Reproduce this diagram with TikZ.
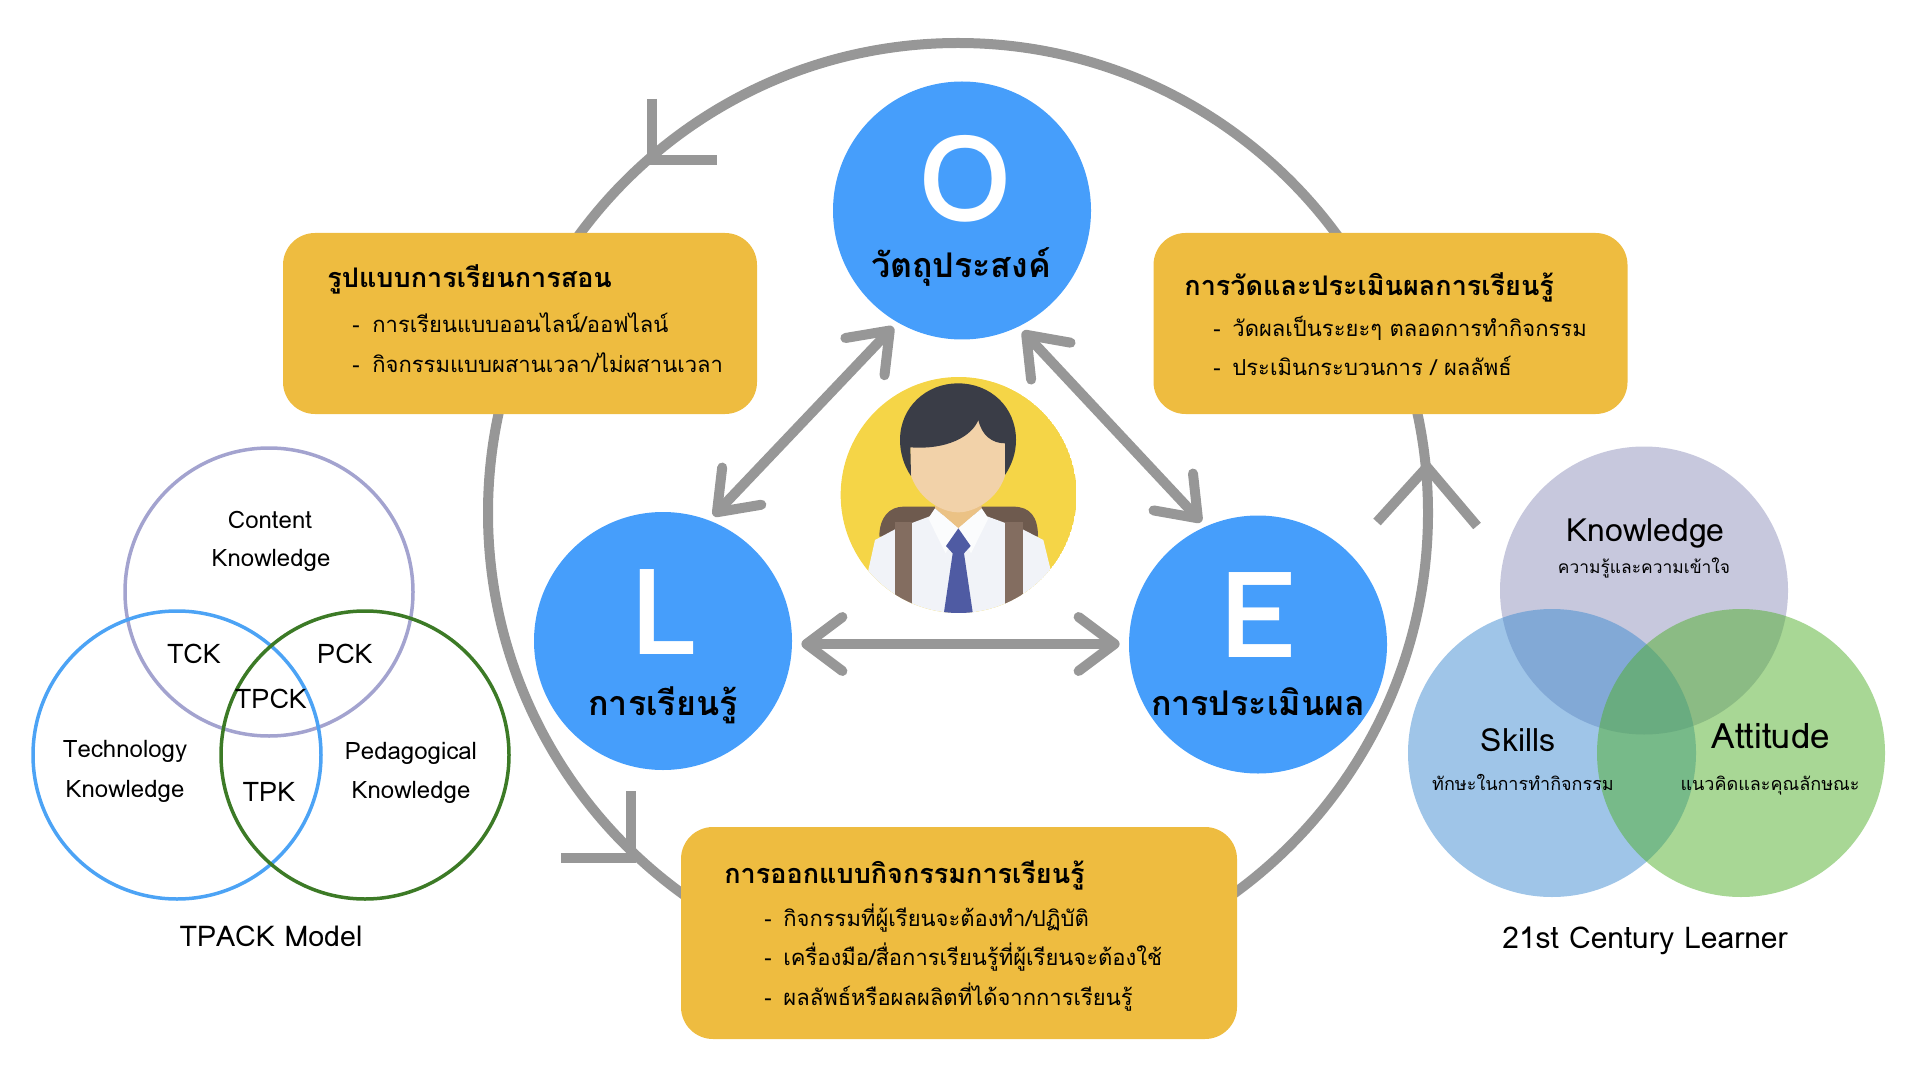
\documentclass[tikz,border=0pt]{standalone}
\usepackage{fontspec}
\setmainfont[Script=Thai]{Loma}
\usetikzlibrary{arrows.meta}
\definecolor{ringgray}{HTML}{979797}
\definecolor{loeblue}{HTML}{469EFB}
\definecolor{boxyellow}{HTML}{EEBC40}
\definecolor{iconyellow}{HTML}{F5D547}
\definecolor{packbrown}{HTML}{6E5A4E}
\definecolor{strapbrown}{HTML}{836D60}
\definecolor{shirtgray}{HTML}{F1F3F8}
\definecolor{collarwhite}{HTML}{FBFCFD}
\definecolor{neckskin}{HTML}{EBC285}
\definecolor{faceskin}{HTML}{F2D2A9}
\definecolor{tieblue}{HTML}{4F5BA3}
\definecolor{hairdark}{HTML}{3A3D47}
\definecolor{contentline}{HTML}{A3A3CF}
\definecolor{technoline}{HTML}{4CA3F5}
\definecolor{pedagoline}{HTML}{3C7A26}
\definecolor{knowfill}{HTML}{8F91BB}
\definecolor{skillfill}{HTML}{3F8BD1}
\definecolor{attitfill}{HTML}{51AF2B}
\tikzset{
  ringline/.style={draw=ringgray,line width=5pt},
  loearrow/.style={draw=ringgray,line width=5pt,{Straight Barb[length=18pt,width=27pt,line width=5pt,round]}-{Straight Barb[length=18pt,width=27pt,line width=5pt,round]}},
  loecircle/.style={circle,fill=loeblue,minimum size=129pt,inner sep=0pt},
  planbox/.style={fill=boxyellow,rounded corners=16pt,minimum width=237pt,minimum height=90.5pt,inner sep=0pt},
  venn/.style={circle,minimum size=144pt,inner sep=0pt},
  linevenn/.style={venn,line width=1.75pt},
  softvenn/.style={venn,fill opacity=0.5},
  bigletter/.style={anchor=base,inner sep=0pt,text=white,text height=40pt,text depth=0pt,font=\fontsize{60}{62}\selectfont\bfseries},
  circlabel/.style={anchor=base,inner sep=0pt,font=\fontsize{17}{20}\selectfont\bfseries},
  boxtitle/.style={anchor=base west,inner sep=0pt,font=\fontsize{13.5}{16}\selectfont\bfseries},
  boxline/.style={anchor=base west,inner sep=0pt,font=\fontsize{11}{14}\selectfont},
  vennlabel/.style={anchor=base,inner sep=0pt,font=\fontsize{12}{14}\selectfont},
  vennmark/.style={anchor=base,inner sep=0pt,font=\fontsize{13.5}{16}\selectfont},
  vennhead/.style={anchor=base,inner sep=0pt,font=\fontsize{16}{18}\selectfont},
  vennsub/.style={anchor=base,inner sep=0pt,font=\fontsize{9}{11}\selectfont}
}
\begin{document}
\begin{tikzpicture}[x=0.5pt,y=-0.5pt]
  \useasboundingbox (0,0) rectangle (1920,1080);
  \node[ringline,circle,minimum size=470pt,inner sep=0pt] (ring) at (958,513) {};
  \coordinate (topvert) at (652,160);
  \coordinate (topa) at (652,99);
  \coordinate (topb) at (717,160);
  \coordinate (botvert) at (631,858);
  \coordinate (bota) at (631,791);
  \coordinate (botb) at (561,858);
  \coordinate (rightvert) at (1427,467);
  \coordinate (righta) at (1377,522);
  \coordinate (rightb) at (1477,526);
  \draw[ringline] (topa) -- (topvert) -- (topb);
  \draw[ringline] (bota) -- (botvert) -- (botb);
  \draw[ringline] (righta) -- (rightvert) -- (rightb);

  \node[loecircle] (obj) at (962,210.5) {};
  \node[loecircle] (learn) at (663,641) {};
  \node[loecircle] (eval) at (1258,644.5) {};
  \node[bigletter] (objletter) at (965,222) {O};
  \node[bigletter] (learnletter) at (665,654) {L};
  \node[bigletter] (evalletter) at (1258,657) {E};
  \node[circlabel] (objlabel) at (961,278) {วัตถุประสงค์};
  \node[circlabel] (learnlabel) at (663,715) {การเรียนรู้};
  \node[circlabel] (evallabel) at (1258,715) {การประเมินผล};
  \draw[loearrow,shorten <=3pt,shorten >=3pt] (obj.240) -- (learn.69);
  \draw[loearrow,shorten <=3pt,shorten >=3pt] (obj.296) -- (eval.114);
  \draw[loearrow,shorten <=4.5pt,shorten >=4.5pt] (learn.east |- 0,644) -- (eval.west |- 0,644);

  \begin{scope}[shift={(800,340)},scale=1/3]
    \begin{scope}
      \clip (476,465) circle (354);
      \fill[iconyellow] (476,465) circle (354);
      \fill[packbrown] (238,590) .. controls (238,530) and (270,500) .. (310,500) -- (640,500) .. controls (690,500) and (714,530) .. (714,590) -- cycle;
      \fill[shirtgray] (205,690) -- (225,600) -- (285,568) -- (400,525) -- (550,525) -- (668,568) -- (730,600) -- (752,690) -- (752,830) -- (205,830) -- cycle;
      \fill[strapbrown] (284,545) rectangle (336,830);
      \fill[strapbrown] (616,545) rectangle (668,830);
      \fill[neckskin] (405,480) -- (545,480) -- (545,505) -- (475,565) -- (405,505) -- cycle;
      \fill[collarwhite] (405,505) -- (475,565) -- (437,640) -- (385,535) -- cycle;
      \fill[collarwhite] (545,505) -- (475,565) -- (513,640) -- (565,535) -- cycle;
      \fill[tieblue] (475,565) -- (512,618) -- (492,640) -- (520,830) -- (430,830) -- (458,640) -- (438,618) -- cycle;
    \end{scope}
    \fill[faceskin] (331,220) -- (331,400) .. controls (350,470) and (420,517) .. (475,517) .. controls (530,517) and (600,470) .. (617,400) -- (617,220) -- cycle;
    \fill[hairdark] (333,408) .. controls (310,375) and (300,335) .. (300,300) .. controls (300,200) and (380,130) .. (474,130) .. controls (570,130) and (648,200) .. (648,300) .. controls (648,340) and (635,375) .. (615,405) -- (615,310) .. controls (575,310) and (545,285) .. (535,240) .. controls (515,290) and (440,330) .. (331,322) -- cycle;
  \end{scope}

  \node[planbox] (teachbox) at (520,323.5) {};
  \node[boxtitle] (teachtitle) at (327,288) {รูปแบบการเรียนการสอน};
  \node[boxline] (teachdasha) at (352,333) {-};
  \node[boxline] (teachlinea) at (372,333) {การเรียนแบบออนไลน์/ออฟไลน์};
  \node[boxline] (teachdashb) at (352,372) {-};
  \node[boxline] (teachlineb) at (372,372) {กิจกรรมแบบผสานเวลา/ไม่ผสานเวลา};

  \node[planbox] (assessbox) at (1390.5,323.5) {};
  \node[boxtitle] (assesstitle) at (1184,296) {การวัดและประเมินผลการเรียนรู้};
  \node[boxline] (assessdasha) at (1213,336) {-};
  \node[boxline] (assesslinea) at (1232,336) {วัดผลเป็นระยะๆ ตลอดการทำกิจกรรม};
  \node[boxline] (assessdashb) at (1213,375) {-};
  \node[boxline] (assesslineb) at (1232,375) {ประเมินกระบวนการ / ผลลัพธ์};

  \node[planbox,minimum width=278pt,minimum height=106pt] (designbox) at (959,933) {};
  \node[boxtitle] (designtitle) at (724,883) {การออกแบบกิจกรรมการเรียนรู้};
  \node[boxline] (designdasha) at (764,926) {-};
  \node[boxline] (designlinea) at (783,926) {กิจกรรมที่ผู้เรียนจะต้องทำ/ปฏิบัติ};
  \node[boxline] (designdashb) at (764,965) {-};
  \node[boxline] (designlineb) at (783,965) {เครื่องมือ/สื่อการเรียนรู้ที่ผู้เรียนจะต้องใช้};
  \node[boxline] (designdashc) at (764,1005) {-};
  \node[boxline] (designlinec) at (783,1005) {ผลลัพธ์หรือผลผลิตที่ได้จากการเรียนรู้};

  \node[linevenn,draw=contentline] (content) at (269,592) {};
  \node[linevenn,draw=technoline] (techno) at (177,755) {};
  \node[linevenn,draw=pedagoline] (pedago) at (365,755) {};
  \node[vennlabel] (contenta) at (270,528) {Content};
  \node[vennlabel] (contentb) at (271,566) {Knowledge};
  \node[vennlabel] (technoa) at (125,757.5) {Technology};
  \node[vennlabel] (technob) at (125,797) {Knowledge};
  \node[vennlabel] (pedagoa) at (411,759) {Pedagogical};
  \node[vennlabel] (pedagob) at (411,798.5) {Knowledge};
  \node[vennmark] (tck) at (194,663) {TCK};
  \node[vennmark] (pck) at (345,663) {PCK};
  \node[vennmark] (tpck) at (271,708.5) {TPCK};
  \node[vennmark] (tpk) at (269,801) {TPK};
  \node[vennlabel,font=\fontsize{14.3}{16}\selectfont] (tpackname) at (271,946) {TPACK Model};

  \node[softvenn,fill=knowfill] (know) at (1644,590.5) {};
  \node[softvenn,fill=skillfill] (skill) at (1552,753) {};
  \node[softvenn,fill=attitfill] (attit) at (1741,753) {};
  \node[vennhead] (knowname) at (1645.5,541) {Knowledge};
  \node[vennsub,font=\fontsize{8.7}{11}\selectfont] (knowsub) at (1644,573) {ความรู้และความเข้าใจ};
  \node[vennhead] (skillname) at (1518,751) {Skills};
  \node[vennsub] (skillsub) at (1523,790) {ทักษะในการทำกิจกรรม};
  \node[vennhead,font=\fontsize{17.5}{20}\selectfont] (attitname) at (1771,748) {Attitude};
  \node[vennsub] (attitsub) at (1770,790) {แนวคิดและคุณลักษณะ};
  \node[vennhead,font=\fontsize{15}{18}\selectfont] (centuryname) at (1645,948) {21st Century Learner};
\end{tikzpicture}
\end{document}
